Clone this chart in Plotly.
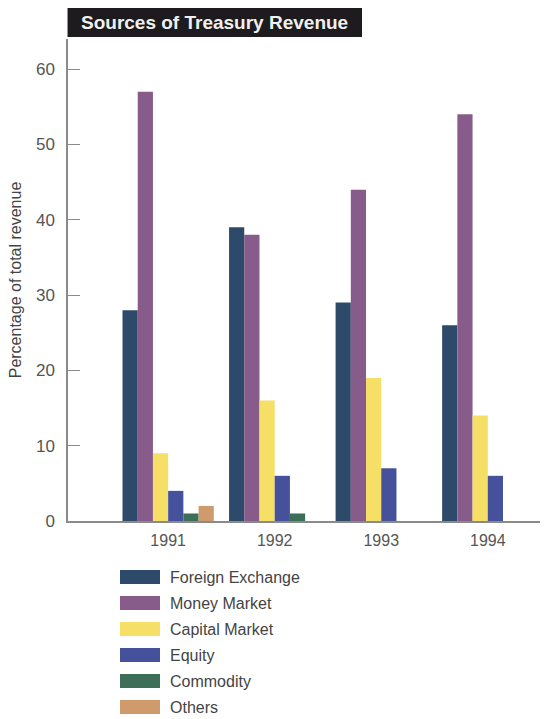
import plotly.graph_objects as go

# Treasury revenue breakdown, percent of total, by year
years = ["1991", "1992", "1993", "1994"]
series_names = ["Foreign Exchange", "Money Market", "Capital Market",
                "Equity", "Commodity", "Others"]
foreign_exchange = [28, 39, 29, 26]
money_market = [57, 38, 44, 54]
capital_market = [9, 16, 19, 14]
equity = [4, 6, 7, 6]
commodity = [1, 1, 0, 0]
others = [2, 0, 0, 0]
y_ticks = [0, 10, 20, 30, 40, 50, 60]

series_values = [foreign_exchange, money_market, capital_market,
                 equity, commodity, others]
colors = ["#2e4a6a", "#875b8a", "#f5df66", "#45519b", "#3d6f58", "#cf9a6c"]

W, H = 547, 719
L, R, T, B = 68, 540, 39, 521

fig = go.Figure()
for name, vals, col in zip(series_names, series_values, colors):
    fig.add_trace(go.Bar(
        x=years, y=vals, name=name,
        marker=dict(color=col, line=dict(width=0)),
        showlegend=False,
    ))

fig.update_layout(
    width=W, height=H,
    margin=dict(l=L, r=W - R, t=T, b=H - B),
    paper_bgcolor="white", plot_bgcolor="white",
    barmode="group", bargap=0.143, bargroupgap=0,
    font=dict(family="Liberation Sans Narrow, Arial Narrow, sans-serif",
              color="#444444"),
    xaxis=dict(
        type="category", range=[-0.94, 3.49],
        showline=True, linecolor="#8a8a8a", linewidth=1.5,
        ticks="", showgrid=False, zeroline=False,
        tickfont=dict(size=16, color="#555555"),
        ticklabelstandoff=4,
        fixedrange=True,
    ),
    yaxis=dict(
        range=[0, 64], tickvals=y_ticks,
        showline=True, linecolor="#8a8a8a", linewidth=1.5,
        ticks="inside", ticklen=12, tickcolor="#8a8a8a", tickwidth=1,
        showgrid=False, zeroline=False,
        tickfont=dict(size=17, color="#555555"),
        ticklabelstandoff=8,
        title=dict(text="Percentage of total revenue",
                   font=dict(size=16, color="#444444"), standoff=10),
        fixedrange=True,
    ),
)

# Title bar
fig.add_shape(type="rect", xref="paper", yref="paper",
              x0=-0.001, x1=(362 - L) / (R - L),
              y0=(B - 37) / (B - T), y1=(B - 8) / (B - T),
              fillcolor="#1e1b1e", line=dict(width=0), layer="above")
fig.add_annotation(text="<b>Sources of Treasury Revenue</b>",
                   xref="paper", yref="paper",
                   x=(79 - L) / (R - L), y=(B - 22.5) / (B - T),
                   xanchor="left", yanchor="middle", showarrow=False,
                   font=dict(size=19, color="#f0f0f0",
                             family="Liberation Sans Narrow, Arial Narrow, sans-serif"))

# Legend below the plot
for i, (name, col) in enumerate(zip(series_names, colors)):
    yc = 577 + i * 26
    fig.add_shape(type="rect", xref="paper", yref="paper",
                  x0=(120 - L) / (R - L), x1=(160 - L) / (R - L),
                  y0=(B - (yc + 7)) / (B - T), y1=(B - (yc - 7)) / (B - T),
                  fillcolor=col, line=dict(width=0))
    fig.add_annotation(text=name, xref="paper", yref="paper",
                       x=(168 - L) / (R - L), y=(B - yc) / (B - T),
                       xanchor="left", yanchor="middle", showarrow=False,
                       font=dict(size=16, color="#444444"))

fig.write_html("out.html")
